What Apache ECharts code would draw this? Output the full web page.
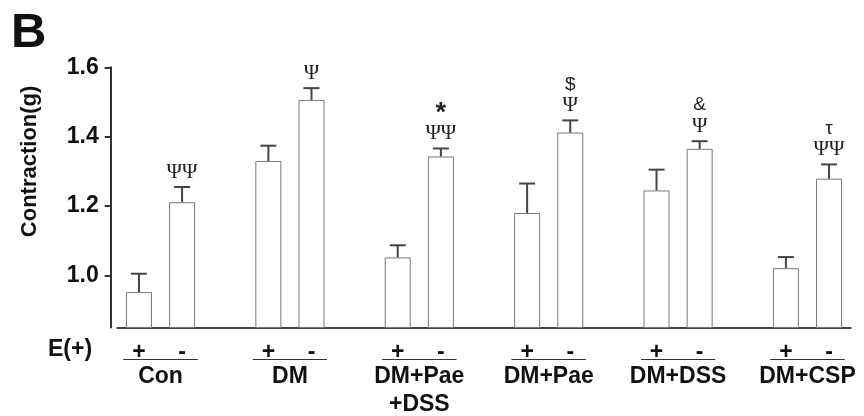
<!DOCTYPE html>
<html>
<head>
<meta charset="utf-8">
<script src="https://cdn.jsdelivr.net/npm/echarts@6/dist/echarts.min.js"></script>
<style>html,body{margin:0;padding:0;background:#fff;}#c{width:864px;height:416px;}</style>
</head>
<body>
<div id="c"></div>
<script>
// ---- data ----
const groups = ['Con', 'DM', 'DM+Pae\n+DSS', 'DM+Pae', 'DM+DSS', 'DM+CSP'];
const condLabels = ['+', '-'];
const ePlusMean = [0.952, 1.330, 1.052, 1.180, 1.245, 1.021];
const ePlusErr = [0.053, 0.044, 0.035, 0.085, 0.060, 0.032];
const eMinusMean = [1.211, 1.506, 1.343, 1.412, 1.365, 1.279];
const eMinusErr = [0.044, 0.034, 0.023, 0.035, 0.022, 0.041];
const ePlusSig = ['', '', '', '', '', ''];
const eMinusSig = ['ΨΨ', 'Ψ', 'ΨΨ', 'Ψ', 'Ψ', 'ΨΨ'];
const eMinusTop = ['', '', '*', '$', '&', 'τ'];
const yTicks = [1.0, 1.2, 1.4, 1.6];
const yMin = 0.85, yMax = 1.6;

// ---- build slot layout (+, -, gap per group) ----
const slots = [], barData = [], errData = [], sigMarks = [], topMarks = [];
groups.forEach((g, i) => {
  slots.push(condLabels[0]); barData.push(ePlusMean[i]);
  errData.push([slots.length - 1, ePlusMean[i], ePlusErr[i]]); sigMarks.push(ePlusSig[i]); topMarks.push('');
  slots.push(condLabels[1]); barData.push(eMinusMean[i]);
  errData.push([slots.length - 1, eMinusMean[i], eMinusErr[i]]); sigMarks.push(eMinusSig[i]); topMarks.push(eMinusTop[i]);
  if (i < groups.length - 1) { slots.push(''); barData.push('-'); }
});
// group label axis: half-slot ticks, group centre falls on index 2 + 6k
const halfSlots = [];
for (let k = 0; k <= slots.length * 2; k++) halfSlots.push('');
groups.forEach((g, i) => { halfSlots[2 + 6 * i] = g; });

const chart = echarts.init(document.getElementById('c'));
const font = 'Liberation Sans, Arial, sans-serif';
const serif = 'Liberation Serif, Times New Roman, serif';
chart.setOption({
  backgroundColor: '#fff',
  animation: false,
  title: [
    { text: 'B', left: 6, top: 4, textStyle: { fontFamily: font, fontSize: 49, fontWeight: 'bold', color: '#111' } },
    { text: 'E(+)', left: 43, top: 333, textStyle: { fontFamily: font, fontSize: 23, fontWeight: 'bold', color: '#111' } }
  ],
  grid: { left: 117.4, right: 13.4, top: 67.3, bottom: 84.3 },
  xAxis: [
    {
      type: 'category', data: slots, position: 'bottom',
      axisLine: { show: true, lineStyle: { color: '#444', width: 2 } },
      axisTick: { show: false },
      axisLabel: { interval: 0, margin: 14, fontFamily: font, fontSize: 23, fontWeight: 'bold', color: '#111' }
    },
    {
      type: 'category', data: halfSlots, position: 'bottom', boundaryGap: false,
      axisLine: { show: false }, axisTick: { show: false }, splitLine: { show: false },
      axisLabel: {
        interval: 0, margin: 32,
        formatter: v => v ? '{u|}\n{n|' + v + '}' : '',
        rich: {
          u: { width: 74, height: 0, borderColor: '#333', borderWidth: 1 },
          n: { fontFamily: font, fontSize: 23, fontWeight: 'bold', color: '#111', lineHeight: 28, padding: [6, 0, 0, 0] }
        }
      }
    }
  ],
  yAxis: {
    type: 'value', min: yMin, max: yMax, position: 'left', offset: 6.7,
    name: 'Contraction(g)', nameLocation: 'middle', nameGap: 70, nameRotate: 90,
    nameTextStyle: { fontFamily: font, fontSize: 22, fontWeight: 'bold', color: '#111', padding: [0, 0, 0, 72] },
    axisLine: { show: true, lineStyle: { color: '#333', width: 2 } },
    axisTick: { show: true, inside: false, length: 6, customValues: yTicks, lineStyle: { color: '#333', width: 2 } },
    axisLabel: { customValues: yTicks, margin: 12, formatter: v => v.toFixed(1), fontFamily: font, fontSize: 23, fontWeight: 'bold', color: '#111' },
    splitLine: { show: false }
  },
  series: [
    {
      type: 'bar', data: barData, barWidth: 26, xAxisIndex: 0,
      itemStyle: { color: '#fff', borderColor: '#777', borderWidth: 1 }
    },
    {
      type: 'custom', xAxisIndex: 0, data: errData, z: 5,
      renderItem: (params, api) => {
        const x = api.value(0), v = api.value(1), e = api.value(2);
        const p0 = api.coord([x, v]);
        const p1 = api.coord([x, v + e]);
        const style = { stroke: '#444', lineWidth: 2 };
        const s = sigMarks[params.dataIndex], t = topMarks[params.dataIndex];
        let txt = '';
        if (t) txt += (t === '*' ? '{a|' : '{t|') + t + '}\n';
        if (s) txt += '{p|' + s + '}';
        return {
          type: 'group',
          children: [
            { type: 'line', shape: { x1: p0[0], y1: p0[1], x2: p1[0], y2: p1[1] }, style },
            { type: 'line', shape: { x1: p1[0] - 8, y1: p1[1], x2: p1[0] + 8, y2: p1[1] }, style },
            { type: 'text', x: p1[0], y: p1[1] - 5,
              style: { text: txt, align: 'center', verticalAlign: 'bottom',
                rich: {
                  t: { fontFamily: font, fontSize: 19, lineHeight: 22, fill: '#222' },
                  a: { fontFamily: font, fontSize: 27, fontWeight: 'bold', lineHeight: 20, fill: '#222', padding: [0, 0, 0, 0] },
                  p: { fontFamily: serif, fontSize: 21, lineHeight: 20, fill: '#222' }
                } } }
          ]
        };
      }
    }
  ]
});
</script>
</body>
</html>
